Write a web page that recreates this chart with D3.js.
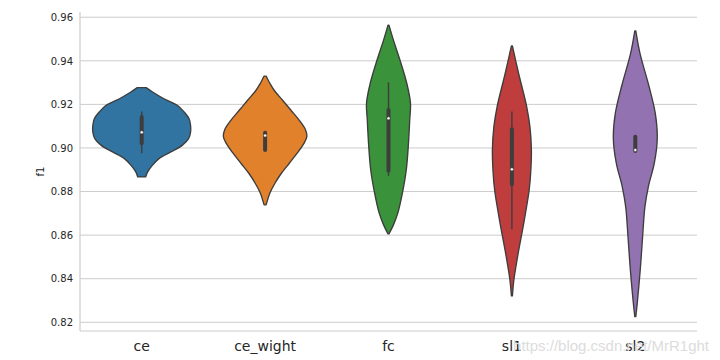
<!DOCTYPE html>
<html>
<head>
<meta charset="utf-8">
<script src="https://cdn.jsdelivr.net/npm/d3@7"></script>
<style>
  html, body { margin: 0; padding: 0; background: #ffffff; }
  svg { display: block; }
</style>
</head>
<body>
<svg id="chart" width="720" height="360"></svg>
<script>
// ---- data ----
const categories = ["ce", "ce_wight", "fc", "sl1", "sl2"];
const colors = ["#3274a1", "#e1812c", "#3a923a", "#c03d3e", "#9372b2"];
const yTicks = [0.82, 0.84, 0.86, 0.88, 0.90, 0.92, 0.94, 0.96];
const yLabel = "f1";

// density profiles: [f1 value, relative density]
const densCe = [[0.9277,0.09],[0.9257,0.22],[0.9226,0.45],[0.9196,0.72],[0.9165,0.86],[0.9134,0.96],[0.9104,0.99],[0.9073,0.99],[0.9043,0.95],[0.9012,0.82],[0.8982,0.59],[0.8951,0.35],[0.8921,0.22],[0.8890,0.12],[0.8867,0.08]];
const densCeWight = [[0.9330,0.02],[0.9297,0.095],[0.9266,0.18],[0.9220,0.35],[0.9174,0.52],[0.9128,0.69],[0.9083,0.82],[0.9052,0.845],[0.9022,0.79],[0.8976,0.65],[0.8930,0.49],[0.8884,0.33],[0.8838,0.20],[0.8792,0.095],[0.8746,0.03],[0.8739,0.02]];
const densFc = [[0.9564,0.01],[0.9495,0.10],[0.9398,0.24],[0.9297,0.37],[0.9206,0.445],[0.9128,0.43],[0.9006,0.40],[0.8899,0.36],[0.8803,0.29],[0.8702,0.19],[0.8647,0.10],[0.8606,0.01]];
const densSl1 = [[0.9468,0.01],[0.9343,0.135],[0.9189,0.30],[0.9098,0.365],[0.8991,0.395],[0.8884,0.38],[0.8807,0.35],[0.8655,0.24],[0.8501,0.115],[0.8395,0.04],[0.8321,0.01]];
const densSl2 = [[0.9537,0.01],[0.9434,0.095],[0.9281,0.28],[0.9159,0.405],[0.9045,0.445],[0.8930,0.385],[0.8823,0.265],[0.8731,0.195],[0.8593,0.148],[0.8440,0.10],[0.8289,0.04],[0.8226,0.01]];
const densities = [densCe, densCeWight, densFc, densSl1, densSl2];

// box stats: [whisker low, q1, median, q3, whisker high]
const boxStats = [
  [0.8976, 0.9022, 0.9072, 0.9142, 0.9167],
  [0.8991, 0.8991, 0.9057, 0.9070, 0.9070],
  [0.8872, 0.8896, 0.9136, 0.9174, 0.9301],
  [0.8627, 0.8833, 0.8902, 0.9086, 0.9167],
  [0.8986, 0.8986, 0.8991, 0.9052, 0.9052]
];
const watermark = "https://blog.csdn.net/MrR1ght";

// ---- layout ----
const svg = d3.select("#chart");
const mLeft = 80, mRight = 697, mTop = 12, mBottom = 331;
const gray = "#3d3d3d";
const gridColor = "#cccccc";

const x = d3.scaleBand().domain(categories).range([mLeft, mRight]).padding(0);
const y = d3.scaleLinear().domain([0.8160, 0.9624]).range([mBottom, mTop]);
const w = d3.scaleLinear().domain([0, 1]).range([0, x.bandwidth() * 0.4]);

// grid
svg.append("g").selectAll("line").data(yTicks).join("line")
  .attr("x1", mLeft).attr("x2", mRight)
  .attr("y1", d => y(d)).attr("y2", d => y(d))
  .attr("stroke", gridColor).attr("stroke-width", 1);

// spines
svg.append("line").attr("x1", mLeft).attr("x2", mLeft).attr("y1", mTop).attr("y2", mBottom)
  .attr("stroke", gridColor).attr("stroke-width", 1.2);
svg.append("line").attr("x1", mLeft).attr("x2", mRight).attr("y1", mBottom).attr("y2", mBottom)
  .attr("stroke", gridColor).attr("stroke-width", 1.2);

// y axis labels
const yAxis = d3.axisLeft(y).tickValues(yTicks).tickFormat(d3.format(".2f")).tickSize(0).tickPadding(7);
const gy = svg.append("g").attr("transform", `translate(${mLeft},0)`).call(yAxis);
gy.select(".domain").remove();
gy.selectAll("text").attr("font-family", "DejaVu Sans").attr("font-size", 10).attr("fill", "#262626");

// x axis labels
const xAxis = d3.axisBottom(x).tickSize(0).tickPadding(10);
const gx = svg.append("g").attr("transform", `translate(0,${mBottom})`).call(xAxis);
gx.select(".domain").remove();
gx.selectAll("text").attr("font-family", "DejaVu Sans").attr("font-size", 14).attr("fill", "#262626");

// y label
svg.append("text")
  .attr("transform", `translate(44,${(mTop + mBottom) / 2}) rotate(-90)`)
  .attr("text-anchor", "middle")
  .attr("font-family", "DejaVu Sans").attr("font-size", 10).attr("fill", "#262626")
  .text(yLabel);

// violins
categories.forEach((cat, i) => {
  const cx = x(cat) + x.bandwidth() / 2;
  const area = d3.area()
    .y(d => y(d[0]))
    .x0(d => cx - w(d[1]))
    .x1(d => cx + w(d[1]))
    .curve(d3.curveCatmullRom);
  svg.append("path").datum(densities[i])
    .attr("d", area)
    .attr("fill", colors[i])
    .attr("stroke", gray).attr("stroke-width", 1.35).attr("stroke-linejoin", "round");

  const [lo, q1, med, q3, hi] = boxStats[i];
  svg.append("line").attr("x1", cx).attr("x2", cx).attr("y1", y(lo)).attr("y2", y(hi))
    .attr("stroke", gray).attr("stroke-width", 1.4);
  svg.append("line").attr("x1", cx).attr("x2", cx).attr("y1", y(q1)).attr("y2", y(q3))
    .attr("stroke", gray).attr("stroke-width", 4).attr("stroke-linecap", "round");
  svg.append("circle").attr("cx", cx).attr("cy", y(med)).attr("r", 1.5)
    .attr("fill", "#ffffff").attr("stroke", gray).attr("stroke-width", 0.4);
});

// watermark (overlaps the last labels in the reference as well)
svg.append("text")
  .attr("x", 709).attr("y", 351)
  .attr("text-anchor", "end")
  .attr("font-family", "Liberation Sans").attr("font-size", 15)
  .attr("fill", "#dcdcdc")
  .text(watermark);
</script>
</body>
</html>
